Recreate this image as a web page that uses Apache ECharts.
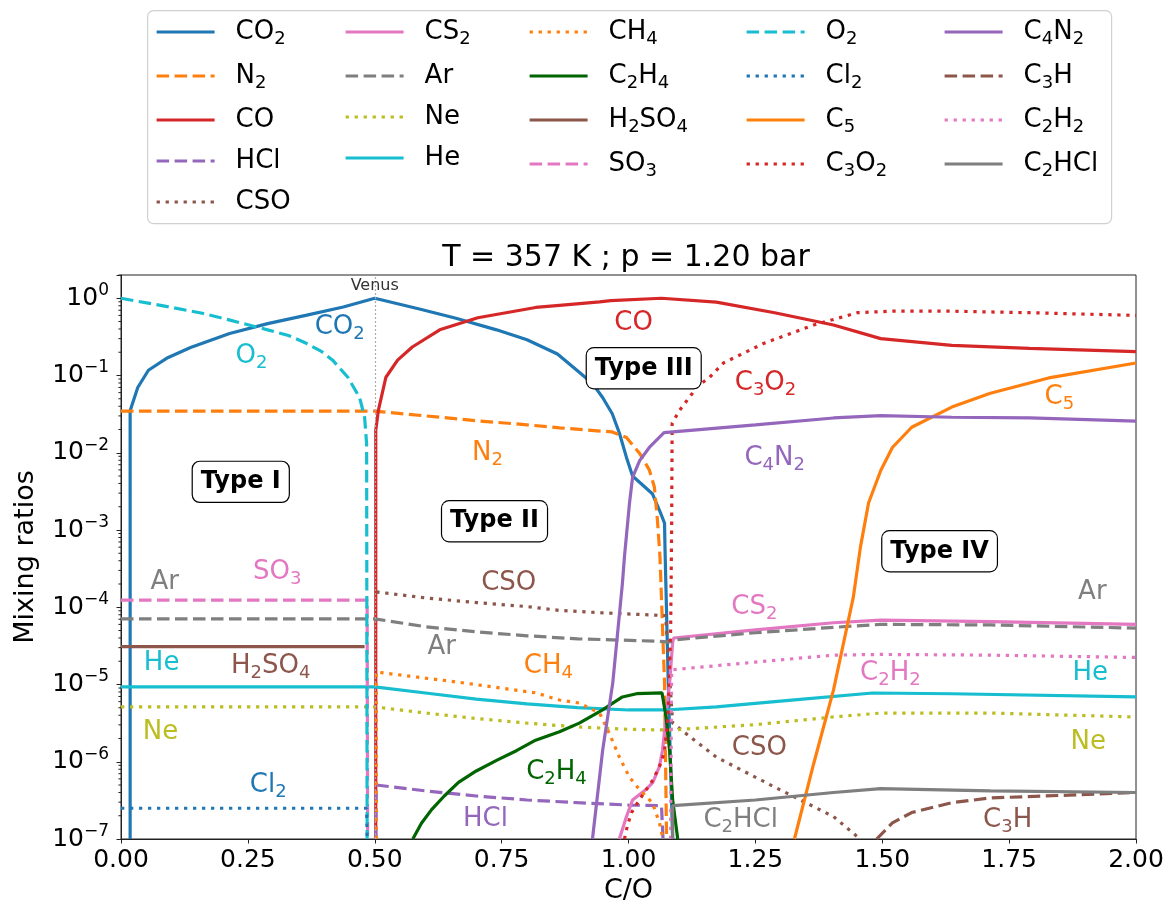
<!DOCTYPE html>
<html><head><meta charset="utf-8">
<script src="https://cdn.jsdelivr.net/npm/echarts@6/dist/echarts.min.js"></script>
<style>html,body{margin:0;padding:0;background:#fff}#c{width:1174px;height:904px}</style>
</head><body><div id="c"></div><script>
// ---------- data (x = C/O, y = mixing ratio) ----------
const CO2 = [[0.018,1e-7],[0.018,0.035],[0.033,0.07],[0.054,0.117],[0.092,0.17],[0.137,0.23],[0.214,0.35],[0.289,0.47],[0.364,0.60],[0.438,0.77],[0.5,1.0],[0.59,0.72],[0.66,0.55],[0.74,0.39],[0.80,0.29],[0.86,0.19],[0.903,0.11],[0.929,0.079],[0.949,0.052],[0.968,0.032],[0.982,0.018],[0.996,8.7e-3],[1.008,5e-3],[1.047,2.95e-3],[1.061,1.8e-3],[1.071,1.23e-3],[1.072,5.5e-4],[1.079,7e-6],[1.087,1e-7]];
const N2 = [[0,0.0345],[0.5,0.0345],[0.6,0.030],[0.7,0.026],[0.8,0.023],[0.864,0.021],[0.968,0.0186],[0.996,0.0158],[1.022,9.8e-3],[1.041,6.0e-3],[1.051,3.6e-3],[1.057,1.35e-3],[1.062,4.5e-4],[1.071,1.05e-5],[1.075,1e-7]];
const CO = [[0.502,1e-7],[0.502,0.0196],[0.507,0.035],[0.522,0.095],[0.545,0.158],[0.574,0.234],[0.628,0.39],[0.703,0.56],[0.817,0.76],[0.864,0.81],[0.943,0.90],[0.965,0.93],[1.065,1.0],[1.173,0.89],[1.288,0.65],[1.404,0.45],[1.497,0.30],[1.637,0.245],[1.79,0.224],[2.0,0.204]];
const HCl = [[0.502,1e-7],[0.503,5.0e-7],[0.6,4.2e-7],[0.7,3.6e-7],[0.8,3.2e-7],[0.9,2.95e-7],[1.0,2.75e-7],[1.065,2.7e-7],[1.068,1e-7]];
const CSO = [[0.503,1.58e-4],[0.6,1.32e-4],[0.7,1.15e-4],[0.8,1.02e-4],[0.864,9.1e-5],[0.943,8.5e-5],[1.073,7.8e-5],[1.087,3.16e-6],[1.173,1.15e-6],[1.288,4.7e-7],[1.404,1.95e-7],[1.451,1.07e-7],[1.455,1e-7]];
const CS2 = [[0.982,1e-7],[0.996,1.95e-7],[1.008,3.2e-7],[1.035,4.4e-7],[1.048,5.4e-7],[1.061,8.7e-7],[1.067,1.4e-6],[1.074,3.8e-6],[1.081,1.05e-5],[1.087,3.5e-5],[1.089,4.0e-5],[1.25,5.1e-5],[1.404,6.3e-5],[1.497,6.8e-5],[1.713,6.5e-5],[2.0,6.0e-5]];
const Ar = [[0,7.08e-5],[0.5,7.08e-5],[0.6,5.6e-5],[0.7,4.8e-5],[0.8,4.27e-5],[0.9,3.9e-5],[1.06,3.63e-5],[1.081,3.55e-5],[1.094,3.8e-5],[1.25,4.68e-5],[1.404,5.5e-5],[1.497,6.0e-5],[1.713,5.9e-5],[2.0,5.37e-5]];
const Ne = [[0,5.13e-6],[0.5,5.13e-6],[0.6,4.27e-6],[0.7,3.63e-6],[0.8,3.16e-6],[0.9,2.82e-6],[1.0,2.63e-6],[1.08,2.57e-6],[1.25,3.02e-6],[1.404,3.8e-6],[1.497,4.27e-6],[1.713,4.27e-6],[2.0,3.8e-6]];
const He = [[0,9.33e-6],[0.5,9.33e-6],[0.6,7.76e-6],[0.7,6.46e-6],[0.8,5.62e-6],[0.9,5.01e-6],[1.0,4.68e-6],[1.073,4.68e-6],[1.173,5.13e-6],[1.327,6.31e-6],[1.481,7.76e-6],[1.637,7.59e-6],[2.0,6.92e-6]];
const CH4 = [[0.503,1e-7],[0.503,1.45e-5],[0.665,1.07e-5],[0.817,7.8e-6],[0.864,6.3e-6],[0.903,5.75e-6],[0.943,4.27e-6],[0.962,2.34e-6],[0.982,1.15e-6],[1.002,6.3e-7],[1.021,4.4e-7],[1.047,2.95e-7],[1.061,1.62e-7],[1.067,1.07e-7]];
const C2H4 = [[0.575,1e-7],[0.592,1.6e-7],[0.612,2.4e-7],[0.637,3.6e-7],[0.665,5.4e-7],[0.70,7.6e-7],[0.741,1.05e-6],[0.78,1.4e-6],[0.817,1.9e-6],[0.864,2.45e-6],[0.903,3.16e-6],[0.949,4.7e-6],[0.969,5.75e-6],[0.988,6.9e-6],[1.016,7.6e-6],[1.066,7.8e-6],[1.074,3.8e-6],[1.081,1.4e-6],[1.087,3.2e-7],[1.097,1e-7]];
const H2SO4 = [[0,3.1e-5],[0.48,3.1e-5]];
const SO3 = [[0,1.24e-4],[0.485,1.24e-4],[0.486,1e-7]];
const O2 = [[0,1.0],[0.1,0.76],[0.16,0.64],[0.213,0.525],[0.289,0.39],[0.33,0.33],[0.364,0.263],[0.395,0.205],[0.417,0.158],[0.447,0.095],[0.47,0.052],[0.48,0.029],[0.484,0.013],[0.485,1e-7]];
const Cl2 = [[0,2.5e-7],[0.484,2.5e-7],[0.485,1e-7]];
const C5 = [[1.327,1e-7],[1.365,9.5e-7],[1.404,8.5e-6],[1.443,1.35e-4],[1.457,6.0e-4],[1.473,2.24e-3],[1.497,5.9e-3],[1.52,0.0117],[1.558,0.0214],[1.637,0.039],[1.713,0.059],[1.828,0.093],[2.0,0.145]];
const C3O2 = [[0.992,1e-7],[0.998,1.5e-7],[1.006,2.2e-7],[1.018,2.95e-7],[1.031,4.0e-7],[1.045,5.4e-7],[1.055,7.2e-7],[1.065,1e-6],[1.071,1.4e-6],[1.078,3.8e-6],[1.083,5e-5],[1.085,1e-3],[1.086,0.024],[1.10,0.035],[1.126,0.059],[1.134,0.071],[1.16,0.095],[1.187,0.145],[1.266,0.26],[1.365,0.45],[1.451,0.65],[1.52,0.68],[1.637,0.68],[1.79,0.65],[2.0,0.60]];
const C4N2 = [[0.929,1e-7],[0.949,1.4e-6],[0.969,1.05e-5],[0.988,2.04e-4],[0.992,4.5e-4],[1.002,2.24e-3],[1.008,4.8e-3],[1.022,7.9e-3],[1.041,0.0117],[1.07,0.0182],[1.25,0.0229],[1.404,0.0282],[1.497,0.0302],[1.637,0.0288],[1.79,0.0282],[2.0,0.0257]];
const C3H = [[1.489,1e-7],[1.52,1.62e-7],[1.558,2.2e-7],[1.637,2.95e-7],[1.713,3.4e-7],[1.867,3.7e-7],[2.0,4.0e-7]];
const C2H2 = [[1.083,1e-7],[1.085,1.55e-5],[1.25,1.95e-5],[1.404,2.4e-5],[1.497,2.45e-5],[1.713,2.4e-5],[2.0,2.24e-5]];
const C2HCl = [[1.087,1e-7],[1.087,2.7e-7],[1.25,3.2e-7],[1.404,4.0e-7],[1.497,4.5e-7],[1.713,4.2e-7],[2.0,4.0e-7]];

const xTicks = [0, 0.25, 0.5, 0.75, 1.0, 1.25, 1.5, 1.75, 2.0];
const venusX = 0.5;

// ---------- styles ----------
const FONT = 'DejaVu Sans';
const C = {blue:'#1f77b4', orange:'#ff7f0e', red:'#d62728', purple:'#9467bd', brown:'#8c564b', pink:'#e377c2', gray:'#7f7f7f', olive:'#bcbd22', cyan:'#17becf', dgreen:'#006400'};
const DASH = [12.5, 5.5], DOT = [3.3, 5.7], SOLID = 'solid';

const seriesDefs = [
  ['CO2', CO2, C.blue, SOLID], ['N2', N2, C.orange, DASH], ['CO', CO, C.red, SOLID], ['HCl', HCl, C.purple, DASH], ['CSO', CSO, C.brown, DOT],
  ['CS2', CS2, C.pink, SOLID], ['Ar', Ar, C.gray, DASH], ['Ne', Ne, C.olive, DOT], ['He', He, C.cyan, SOLID],
  ['CH4', CH4, C.orange, DOT], ['C2H4', C2H4, C.dgreen, SOLID], ['H2SO4', H2SO4, C.brown, SOLID], ['SO3', SO3, C.pink, DASH],
  ['O2', O2, C.cyan, DASH], ['Cl2', Cl2, C.blue, DOT], ['C5', C5, C.orange, SOLID], ['C3O2', C3O2, C.red, DOT],
  ['C4N2', C4N2, C.purple, SOLID], ['C3H', C3H, C.brown, DASH], ['C2H2', C2H2, C.pink, DOT], ['C2HCl', C2HCl, C.gray, SOLID]
];

const legendCols = [['CO2','N2','CO','HCl','CSO'],['CS2','Ar','Ne','He'],['CH4','C2H4','H2SO4','SO3'],['O2','Cl2','C5','C3O2'],['C4N2','C3H','C2H2','C2HCl']];
const legendLeft = [155, 344, 528, 745, 943];

// annotation labels: [text, x, y, color]
const annotations = [
  ['CO2', 0.431, 0.42, C.blue], ['O2', 0.257, 0.178, C.cyan], ['CO', 1.01, 0.475, C.red], ['C3O2', 1.27, 0.079, C.red],
  ['C5', 1.849, 0.052, C.orange], ['N2', 0.722, 9.9e-3, C.orange], ['C4N2', 1.288, 8.5e-3, C.purple],
  ['Ar', 0.086, 2.1e-4, C.gray], ['SO3', 0.308, 2.85e-4, C.pink], ['CSO', 0.764, 2.06e-4, C.brown], ['Ar', 1.914, 1.58e-4, C.gray],
  ['CS2', 1.248, 1.0e-4, C.pink], ['Ar', 0.632, 3.05e-5, C.gray], ['He', 0.08, 1.9e-5, C.cyan], ['H2SO4', 0.295, 1.7e-5, C.brown],
  ['CH4', 0.842, 1.7e-5, C.orange], ['C2H2', 1.516, 1.38e-5, C.pink], ['He', 1.91, 1.38e-5, C.cyan],
  ['Ne', 0.078, 2.44e-6, C.olive], ['Ne', 1.906, 1.8e-6, C.olive], ['CSO', 1.258, 1.5e-6, C.brown],
  ['C2H4', 0.858, 7.4e-7, C.dgreen], ['Cl2', 0.29, 4.9e-7, C.blue], ['HCl', 0.718, 1.82e-7, C.purple],
  ['C2HCl', 1.221, 1.76e-7, C.gray], ['C3H', 1.747, 1.76e-7, C.brown]
];
const typeBoxes = [['Type I', 0.236, 4.2e-3], ['Type II', 0.736, 1.3e-3], ['Type III', 1.03, 0.124], ['Type IV', 1.613, 5.3e-4]];
const venusLabel = ['Venus', 0.5, 1.43];

function chem(s) { return s.replace(/([A-Za-z]+)|(\d+)/g, (m, a, d) => a ? '{b|' + a + '}' : '{s|' + d + '}'); }
function richChem(color, size) {
  return {
    b: {color: color, fontSize: size, fontFamily: FONT, lineHeight: 32},
    s: {color: color, fontSize: Math.round(size * 0.7), fontFamily: FONT, lineHeight: 16, verticalAlign: 'bottom'}
  };
}

const minorTickVals = [];
for (let k = -7; k <= 0; k++) for (let m = 2; m <= 9; m++) { const v = m * Math.pow(10, k); if (v <= 2.0001) minorTickVals.push(v); }

const series = seriesDefs.map(([name, data, color, type], i) => ({
  name: name, type: 'line', data: data, symbol: 'none', showSymbol: false, smooth: false,
  lineStyle: {color: color, width: 3.2, type: type, cap: 'butt'}, itemStyle: {color: color},
  emphasis: {disabled: true}, z: 2, silent: true
}));
series[0].markLine = {silent: true, symbol: ['none', 'none'], label: {show: false}, animation: false,
  lineStyle: {color: '#aaaaaa', width: 1.2, type: [2, 2]}, data: [{xAxis: venusX}]};

const labelData = annotations.map(([t, x, y, c]) => ({value: [x, y], label: {show: true, position: 'inside', formatter: chem(t), rich: richChem(c, 26)}}))
  .concat(typeBoxes.map(([t, x, y]) => ({value: [x, y], label: {show: true, position: 'inside', formatter: t, color: '#000', fontSize: 24, fontWeight: 'bold', fontFamily: FONT,
    lineHeight: 28, backgroundColor: '#fff', borderColor: '#000', borderWidth: 1.2, borderRadius: 7, padding: [6, 8, 6, 8]}})))
  .concat([{value: [venusLabel[1], venusLabel[2]], label: {show: true, position: 'inside', formatter: venusLabel[0], color: '#333', fontSize: 16, fontFamily: FONT}}]);

series.push({
  type: 'scatter', name: '_labels', silent: true, symbolSize: 2, z: 10,
  itemStyle: {color: 'rgba(0,0,0,0)', borderWidth: 0, opacity: 1},
  labelLayout: {hideOverlap: false},
  data: labelData
});
series.push({
  type: 'custom', name: '_minor', silent: true, clip: false, z: 3,
  data: minorTickVals.map(v => [0, v]),
  renderItem: (params, api) => { const p = api.coord([0, api.value(1)]); return {type: 'line', shape: {x1: p[0] - 2.6, y1: p[1], x2: p[0], y2: p[1]}, style: {stroke: '#222', lineWidth: 1}}; }
});

const chart = echarts.init(document.getElementById('c'), null, {renderer: 'canvas'});
chart.setOption({
  animation: false,
  backgroundColor: '#fff',
  textStyle: {fontFamily: FONT},
  graphic: [
    {type: 'rect', left: 147, top: 10, shape: {width: 964, height: 213, r: 6}, style: {fill: '#fff', stroke: '#d0d0d0', lineWidth: 1.2}, z: -1},
    {type: 'text', x: 626, y: 258.5, style: {text: 'T = 357 K ; p = 1.20 bar', font: '30px "DejaVu Sans"', fill: '#000', textAlign: 'center', textVerticalAlign: 'middle'}}
  ],
  legend: legendCols.map((cols, i) => ({
    data: cols, orient: 'vertical', left: legendLeft[i], top: 19, itemWidth: 58, itemHeight: 14, itemGap: 15, padding: 0,
    selectedMode: false, formatter: n => chem(n), lineStyle: {width: 3.2}, itemStyle: {opacity: 0, borderWidth: 0},
    textStyle: {color: '#000', fontFamily: FONT, fontSize: 26, padding: [0, 0, 0, 16], rich: richChem('#000', 26)}
  })),
  grid: {left: 121, right: 38, top: 275, bottom: 65, show: true, borderColor: '#222', borderWidth: 1, outerBoundsMode: 'none', containLabel: false},
  xAxis: {
    type: 'value', min: xTicks[0], max: xTicks[xTicks.length - 1], interval: 0.25,
    name: 'C/O', nameLocation: 'middle', nameGap: 34, nameTextStyle: {fontSize: 27, fontFamily: FONT, color: '#000'},
    axisLine: {show: true, lineStyle: {color: '#222', width: 1}}, axisTick: {show: true, length: 4.5, lineStyle: {color: '#222'}},
    axisLabel: {fontSize: 25, fontFamily: FONT, color: '#000', margin: 9, formatter: v => v.toFixed(2)},
    splitLine: {show: false}
  },
  yAxis: {
    type: 'log', logBase: 10, min: 1e-7, max: 2,
    name: 'Mixing ratios', nameLocation: 'middle', nameGap: 82, nameRotate: 90, nameTextStyle: {fontSize: 27, fontFamily: FONT, color: '#000'},
    axisLine: {show: true, lineStyle: {color: '#222', width: 1}}, axisTick: {show: true, length: 4.5, lineStyle: {color: '#222'}},
    axisLabel: {margin: 12, formatter: v => { const l = Math.log10(v); const e = Math.round(l); if (Math.abs(l - e) > 1e-6) return ''; return '{b|10}{p|' + (e < 0 ? '\u2212' : '') + Math.abs(e) + '}'; },
      rich: {b: {fontSize: 25, fontFamily: FONT, color: '#000', lineHeight: 32}, p: {fontSize: 17, fontFamily: FONT, color: '#000', lineHeight: 20, verticalAlign: 'top'}}},
    splitLine: {show: false}
  },
  series: series
});
</script></body></html>
